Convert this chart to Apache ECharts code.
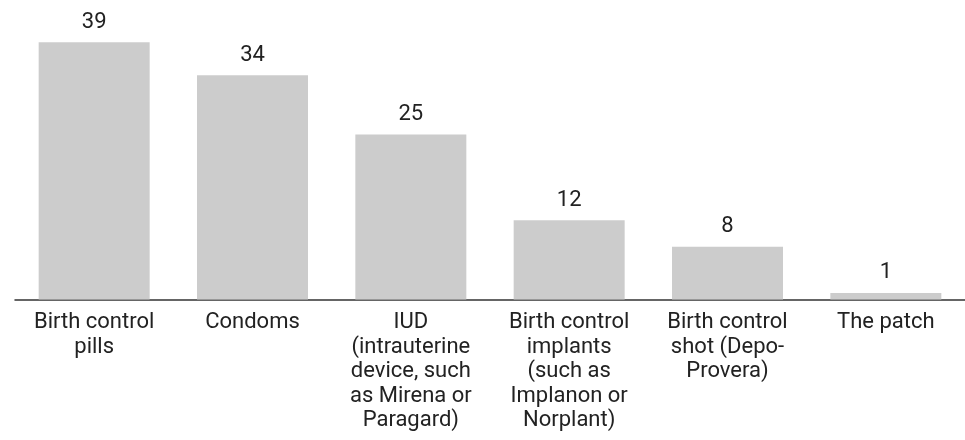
<!DOCTYPE html>
<html>
<head>
<meta charset="utf-8">
<script src="https://cdn.jsdelivr.net/npm/echarts@6/dist/echarts.min.js"></script>
<style>
  html, body { margin: 0; padding: 0; background: #fff; }
  #chart { width: 965px; height: 440px; }
</style>
</head>
<body>
<div id="chart"></div>
<script>
// categories (line breaks as in the reference)
const methods = [
  'Birth control\npills',
  'Condoms',
  'IUD\n(intrauterine\ndevice, such\nas Mirena or\nParagard)',
  'Birth control\nimplants\n(such as\nImplanon or\nNorplant)',
  'Birth control\nshot (Depo-\nProvera)',
  'The patch'
];
const counts = [39, 34, 25, 12, 8, 1];

const chart = echarts.init(document.getElementById('chart'));

chart.setOption({
  animation: false,
  textStyle: { fontFamily: 'Roboto' },
  grid: { left: 15, top: 22.5, width: 953, bottom: 140.5, containLabel: false },
  xAxis: {
    type: 'category',
    data: methods,
    axisLine: { show: true, lineStyle: { color: '#333', width: 1.5 } },
    axisTick: { show: false },
    axisLabel: {
      color: '#222',
      fontSize: 22,
      lineHeight: 24.5,
      margin: 11,
      interval: 0,
      align: 'center'
    }
  },
  yAxis: {
    type: 'value',
    min: 0,
    max: 42,
    show: false,
    splitLine: { show: false }
  },
  series: [{
    type: 'bar',
    data: counts,
    barWidth: 111,
    itemStyle: { color: '#cccccc' },
    label: {
      show: true,
      position: 'top',
      distance: 9,
      color: '#222',
      fontSize: 22
    }
  }]
});
</script>
</body>
</html>
